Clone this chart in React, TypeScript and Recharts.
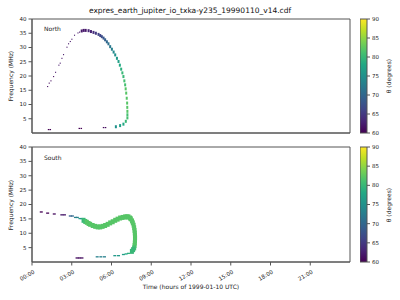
import React from 'react';
import { ScatterChart, Scatter, ComposedChart, Line, XAxis, YAxis, ReferenceArea } from 'recharts';

// [hours, frequency MHz, theta degrees]
type Pt = [number, number, number];

const hourTicks = [0, 3, 6, 9, 12, 15, 18, 21];
const freqTicks = [5, 10, 15, 20, 25, 30, 35, 40];
const thetaTicks = [60, 65, 70, 75, 80, 85, 90];

const northLow: Pt[] = [
  [1.25, 1.2, 60], [1.38, 1.2, 60], [3.57, 1.6, 60], [3.72, 1.6, 60], [5.4, 1.9, 61], [5.55, 1.9, 61],
];
const northRise: Pt[] = [
  [1.18, 16.3, 61], [1.3, 17.5, 61], [1.43, 18.3, 61], [1.63, 19.8, 61], [1.78, 21.3, 62],
  [2.03, 23.8, 62], [2.13, 24.5, 62], [2.26, 26.2, 62], [2.38, 27.5, 62], [2.64, 30.1, 62],
  [2.76, 31.3, 62], [2.89, 32.1, 62], [3.01, 32.9, 62], [3.21, 34.3, 62], [3.47, 35.1, 62],
  [3.59, 35.4, 62],
];
const northFall: Pt[] = [
  [3.75, 35.8, 62], [3.9, 36.0, 62], [4.05, 36.0, 62], [4.27, 35.9, 63], [4.45, 35.6, 63],
  [4.64, 35.3, 64], [4.82, 35.0, 65], [5.02, 34.6, 66], [5.15, 34.2, 66], [5.27, 33.8, 67],
  [5.4, 33.3, 68], [5.52, 32.7, 69], [5.65, 32.0, 70], [5.77, 31.3, 71], [5.9, 30.3, 72],
  [6.03, 29.4, 73], [6.16, 28.4, 74], [6.28, 27.4, 75], [6.41, 26.2, 76], [6.53, 25.1, 77],
  [6.63, 23.8, 78], [6.73, 22.4, 79], [6.82, 21.1, 80], [6.9, 19.8, 80], [6.97, 18.3, 81],
  [7.03, 16.9, 81], [7.07, 15.5, 82], [7.11, 14.0, 82], [7.15, 12.2, 82], [7.18, 10.5, 82],
  [7.19, 9.0, 82], [7.2, 7.6, 82], [7.2, 6.4, 81], [7.2, 5.3, 81], [7.08, 4.1, 80],
  [6.9, 3.1, 78], [6.65, 2.6, 77], [6.33, 2.2, 75],
];

const southLead: Pt[] = [
  [0.7, 17.4, 60], [1.18, 17.0, 60], [1.68, 16.7, 61], [2.25, 16.4, 62], [2.45, 16.4, 62],
  [2.89, 16.0, 69], [3.05, 16.0, 70], [3.28, 15.5, 73], [3.42, 15.5, 73], [3.62, 15.1, 76],
  [3.76, 15.1, 76],
];
const southBand: Pt[] = [
  [3.89, 14.5, 80], [4.02, 14.1, 81], [4.14, 13.8, 82], [4.27, 13.4, 82], [4.39, 13.1, 82],
  [4.58, 12.7, 82], [4.77, 12.4, 82], [4.96, 12.2, 82], [5.15, 12.2, 82], [5.33, 12.4, 82],
  [5.52, 12.7, 82], [5.71, 13.1, 82], [5.9, 13.6, 82], [6.09, 14.0, 82], [6.28, 14.5, 82],
  [6.46, 14.9, 82], [6.65, 15.3, 82], [6.84, 15.5, 82], [7.03, 15.7, 82], [7.16, 15.7, 82],
  [7.28, 15.7, 82], [7.4, 15.3, 82], [7.46, 15.0, 82], [7.55, 14.3, 82], [7.61, 13.6, 82],
  [7.67, 12.8, 82], [7.71, 11.9, 82], [7.74, 11.0, 82], [7.76, 10.1, 82], [7.77, 9.2, 82],
  [7.78, 8.4, 82], [7.77, 7.5, 82], [7.76, 6.6, 82], [7.74, 5.7, 82], [7.71, 4.9, 81],
  [7.63, 4.3, 80], [7.54, 3.7, 80],
];
const southLow: Pt[] = [
  [7.28, 3.0, 79], [7.1, 2.8, 78], [6.9, 2.6, 77], [6.53, 2.2, 76], [6.25, 2.2, 76],
  [5.47, 1.8, 73], [5.2, 1.8, 73], [4.92, 1.8, 73], [3.77, 1.4, 61], [3.58, 1.4, 61],
  [3.4, 1.4, 61],
];

const viridisStops = ['#440154', '#482475', '#414487', '#355f8d', '#2a788e', '#21918c',
  '#22a884', '#44bf70', '#7ad151', '#bddf26', '#fde725'];

function viridis(theta: number) {
  const t = Math.min(1, Math.max(0, (theta - 60) / 30)) * (viridisStops.length - 1);
  const i = Math.min(Math.floor(t), viridisStops.length - 2);
  const k = t - i;
  const a = viridisStops[i], b = viridisStops[i + 1];
  const ch = (s: string, o: number) => parseInt(s.slice(o, o + 2), 16);
  const mix = (o: number) => Math.round(ch(a, o) + (ch(b, o) - ch(a, o)) * k);
  return `rgb(${mix(1)},${mix(3)},${mix(5)})`;
}

const rows = (pts: Pt[]) => pts.map(([h, f, theta]) => ({ h, f, theta }));

const mark = (w: number, ht: number) => (props: any) => {
  const { cx, cy, payload } = props;
  if (cx == null || cy == null) return <g />;
  return <rect x={cx - w / 2} y={cy - ht / 2} width={w} height={ht} fill={viridis(payload.theta)} />;
};

const fmtHour = (v: number) => `${String(v).padStart(2, '0')}:00`;
const axisColor = '#555';
const textColor = '#222';

const HourTick = (props: any) => {
  const { x, y, payload } = props;
  return (
    <text transform={`translate(${x + 1},${y + 2}) rotate(-30)`} textAnchor="end" dominantBaseline="hanging"
      fontSize={5.5} fill={textColor}>{fmtHour(payload.value)}</text>
  );
};

type PanelProps = { top: number; height: number; mTop: number; xH: number; labels: boolean; series: { pts: Pt[]; w: number; h: number }[] };

const Panel = ({ top, height, mTop, xH, labels, series }: PanelProps) => (
  <div style={{ position: 'absolute', left: 0, top, width: 400, height }}>
    <ScatterChart width={400} height={height} margin={{ top: mTop, right: 50, bottom: 0, left: 0 }}>
      <XAxis type="number" dataKey="h" domain={[0, 24]} ticks={hourTicks} height={xH} allowDataOverflow
        stroke={axisColor} tickSize={3.5} tick={labels ? <HourTick /> : false} interval={0} />
      <YAxis type="number" dataKey="f" domain={[0, 40]} ticks={freqTicks} width={32} allowDataOverflow
        stroke={axisColor} tickSize={3.5} interval={0} tick={{ fontSize: 5.5, fill: textColor }} />
      <ReferenceArea x1={0} x2={24} y1={0} y2={40} fill="none" stroke={axisColor} strokeWidth={1} />
      {series.map((s, i) => (
        <Scatter key={i} data={rows(s.pts)} shape={mark(s.w, s.h)} isAnimationActive={false} />
      ))}
    </ScatterChart>
  </div>
);

const ColorBar = ({ top, height, mTop, mBottom, id }: { top: number; height: number; mTop: number; mBottom: number; id: string }) => (
  <div style={{ position: 'absolute', left: 360, top, width: 40, height }}>
    <ComposedChart width={40} height={height} data={[{ x: 0, t: 60 }, { x: 1, t: 90 }]}
      margin={{ top: mTop, right: 0, bottom: mBottom, left: 0 }}>
      <defs>
        <linearGradient id={id} x1="0" y1="1" x2="0" y2="0">
          {viridisStops.map((c, i) => (
            <stop key={c} offset={i / (viridisStops.length - 1)} stopColor={c} />
          ))}
        </linearGradient>
      </defs>
      <XAxis type="number" dataKey="x" domain={[0, 1]} hide />
      <YAxis type="number" orientation="right" domain={[60, 90]} ticks={thetaTicks} width={33} interval={0}
        stroke={axisColor} tickSize={3} axisLine={false} tick={{ fontSize: 5.5, fill: textColor }} />
      <Line dataKey="t" stroke="none" dot={false} activeDot={false} isAnimationActive={false} />
      <ReferenceArea x1={0} x2={1} y1={60} y2={90} fill={`url(#${id})`} fillOpacity={1} stroke={axisColor} strokeWidth={1} />
    </ComposedChart>
  </div>
);

export default function App() {
  return (
    <div style={{ position: 'absolute', left: 0, top: 0, width: 400, height: 300, background: '#fff', fontFamily: 'DejaVu Sans' }}>
      <Panel top={0} height={140} mTop={19} xH={7} labels={false}
        series={[{ pts: northLow, w: 1.5, h: 1.2 }, { pts: northRise, w: 1.1, h: 1.1 }, { pts: northFall, w: 2, h: 3 }]} />
      <Panel top={140} height={160} mTop={7} xH={38} labels
        series={[{ pts: southLead, w: 3, h: 1.3 }, { pts: southLow, w: 3, h: 1.3 }, { pts: southBand, w: 4, h: 5 }]} />
      <ColorBar top={0} height={140} mTop={19} mBottom={7} id="vir1" />
      <ColorBar top={140} height={160} mTop={7} mBottom={38} id="vir2" />
      <svg width={400} height={300} style={{ position: 'absolute', left: 0, top: 0, pointerEvents: 'none' }}
        fontFamily="DejaVu Sans">
        <text x={190} y={13} textAnchor="middle" fontSize={7.5} fill="#111">expres_earth_jupiter_io_txka-y235_19990110_v14.cdf</text>
        <text x={44} y={31} fontSize={6} fill={textColor}>North</text>
        <text x={44} y={160} fontSize={6} fill={textColor}>South</text>
        <text transform="translate(10,76) rotate(-90)" textAnchor="middle" dominantBaseline="central" fontSize={6} fill={textColor}>Frequency (MHz)</text>
        <text transform="translate(10,205) rotate(-90)" textAnchor="middle" dominantBaseline="central" fontSize={6} fill={textColor}>Frequency (MHz)</text>
        <text transform="translate(388,76) rotate(-90)" textAnchor="middle" dominantBaseline="central" fontSize={6} fill={textColor}>θ (degrees)</text>
        <text transform="translate(388,205) rotate(-90)" textAnchor="middle" dominantBaseline="central" fontSize={6} fill={textColor}>θ (degrees)</text>
        <text x={191} y={289} textAnchor="middle" fontSize={6} fill={textColor}>Time (hours of 1999-01-10 UTC)</text>
      </svg>
    </div>
  );
}
